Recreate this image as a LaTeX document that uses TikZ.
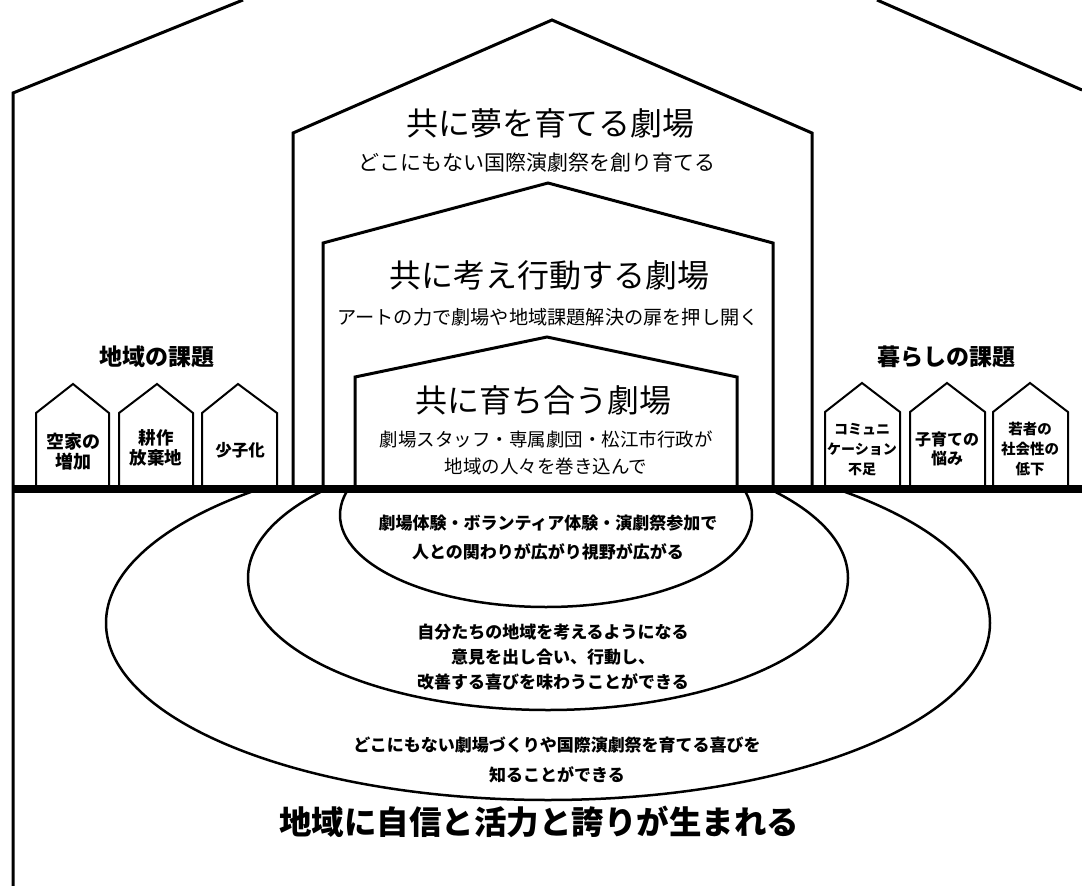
\documentclass[tikz,border=0pt]{standalone}
\usepackage{fontspec}
\setmainfont{Noto Sans CJK JP}
\begin{document}
\begin{tikzpicture}[x=1pt,y=-1pt,
  bigline/.style={line width=3pt,line join=miter,line cap=butt},
  smallhouse/.style={line width=2pt,line join=miter},
  ring/.style={line width=2.5pt},
  ground/.style={line width=8pt},
  titletext/.style={inner sep=0pt,font=\fontsize{32}{36}\selectfont},
  subtext/.style={inner sep=0pt,align=center},
  housetext/.style={inner sep=0pt,align=center},
  ringtext/.style={inner sep=0pt,align=center,font=\bfseries\fontsize{17}{29}\selectfont},
  headtext/.style={inner sep=0pt,font=\bfseries\fontsize{23}{26}\selectfont}
]
\useasboundingbox (0,0) rectangle (1082,886);
\fill[white] (0,0) rectangle (1082,886);

% ellipses below ground
\begin{scope}
  \clip (0,489) rectangle (1082,886);
  \draw[ring] (548,623) ellipse [x radius=442pt, y radius=177pt];
  \draw[ring] (548,578) ellipse [x radius=300pt, y radius=132pt];
  \draw[ring] (546,515) ellipse [x radius=206pt, y radius=92pt];
\end{scope}

% big house
\draw[bigline] (13,886) -- (13,93) -- (243,0);
\draw[bigline] (877,0) -- (1082,90);

% house 1
\draw[bigline] (293,489) -- (293,133) -- (552,20) -- (812,133) -- (812,489);
% house 2
\draw[bigline] (323,489) -- (323,243) -- (548,183) -- (773,243) -- (773,489);
% house 3
\draw[bigline] (355,489) -- (355,377) -- (547,337) -- (737,377) -- (737,489);

% small houses left
\draw[smallhouse] (36,489) -- (36,413) -- (73,384) -- (109,413) -- (109,489);
\draw[smallhouse] (119,489) -- (119,413) -- (157,384) -- (193,413) -- (193,489);
\draw[smallhouse] (202,489) -- (202,413) -- (238,384) -- (277,413) -- (277,489);
% small houses right
\draw[smallhouse] (825,489) -- (825,412) -- (862,383) -- (900,412) -- (900,489);
\draw[smallhouse] (910,489) -- (910,412) -- (947,383) -- (985,412) -- (985,489);
\draw[smallhouse] (993,489) -- (993,412) -- (1030,383) -- (1068,412) -- (1068,489);

% ground
\draw[ground] (13,489) -- (1082,489);

% texts in houses
\node[titletext] (t1) at (550,123) {共に夢を育てる劇場};
\node[subtext,font=\fontsize{21}{24}\selectfont] (s1) at (537,163) {どこにもない国際演劇祭を創り育てる};
\node[titletext] (t2) at (549,275) {共に考え行動する劇場};
\node[subtext,font=\fontsize{19.2}{22}\selectfont] (s2) at (548,317) {アートの力で劇場や地域課題解決の扉を押し開く};
\node[titletext] (t3) at (543,400) {共に育ち合う劇場};
\node[subtext,font=\fontsize{18.5}{27}\selectfont] (s3) at (546,453) {劇場スタッフ・専属劇団・松江市行政が\\地域の人々を巻き込んで};

% headings
\node[headtext] (hl) at (157,357) {地域の課題};
\node[headtext] (hr) at (946,357) {暮らしの課題};

% small house texts
\node[housetext,font=\bfseries\fontsize{18}{20}\selectfont] (a1) at (73,452) {空家の\\増加};
\node[housetext,font=\bfseries\fontsize{17.5}{20}\selectfont] (a2) at (156,448) {耕作\\放棄地};
\node[housetext,font=\bfseries\fontsize{16.5}{20}\selectfont] (a3) at (240,450) {少子化};
\node[housetext,font=\bfseries\fontsize{14}{20}\selectfont] (b1) at (862,450) {コミュニ\\ケーション\\不足};
\node[housetext,font=\bfseries\fontsize{16}{19}\selectfont] (b2) at (947,449) {子育ての\\悩み};
\node[housetext,font=\bfseries\fontsize{14.5}{20}\selectfont] (b3) at (1030,449) {若者の\\社会性の\\低下};

% ring texts
\node[ringtext] (r1) at (548,538) {劇場体験・ボランティア体験・演劇祭参加で\\人との関わりが広がり視野が広がる};
\node[ringtext,font=\bfseries\fontsize{17}{25}\selectfont] (r2) at (553,657) {自分たちの地域を考えるようになる\\意見を出し合い、行動し、\\改善する喜びを味わうことができる};
\node[ringtext,font=\bfseries\fontsize{17}{30}\selectfont] (r3) at (557,760) {どこにもない劇場づくりや国際演劇祭を育てる喜びを\\知ることができる};

% bottom
\node[inner sep=0pt,font=\bfseries\fontsize{32.5}{36}\selectfont] (bottom) at (539,822) {地域に自信と活力と誇りが生まれる};
\end{tikzpicture}
\end{document}
